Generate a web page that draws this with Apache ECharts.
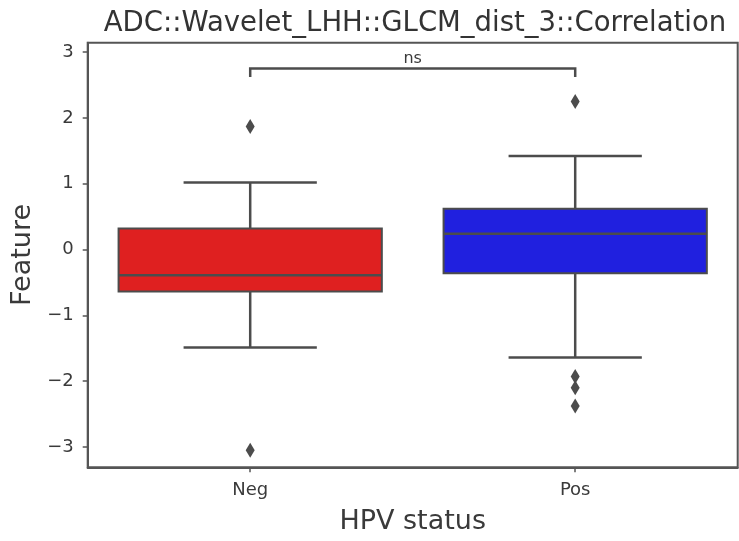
<!DOCTYPE html>
<html>
<head>
<meta charset="utf-8">
<script src="https://cdn.jsdelivr.net/npm/echarts@6/dist/echarts.min.js"></script>
<style>html,body{margin:0;padding:0;background:#fff}#c{width:739px;height:541px}</style>
</head>
<body>
<div id="c"></div>
<script>
// ---- data ----
const categories = ['Neg', 'Pos'];
// [lowWhisker, Q1, median, Q3, highWhisker]
const negStats = [-1.49, -0.64, -0.39, 0.32, 1.02];
const posStats = [-1.64, -0.36, 0.24, 0.62, 1.42];
const negOutliers = [1.87, -3.05];
const posOutliers = [2.25, -1.93, -2.10, -2.38];
const yTicks = [-3, -2, -1, 0, 1, 2, 3];
const bracketY = [2.62, 2.75];
const bracketText = 'ns';
const titleText = 'ADC::Wavelet_LHH::GLCM_dist_3::Correlation';

const boxColors = ['#df2020', '#2020df'];
const gray = '#4c4c4c';
const FONT = 'DejaVu Sans';

const boxData = [negStats, posStats].map((s, i) => [i].concat(s));
const outlierData = [];
negOutliers.forEach(v => outlierData.push([0, v]));
posOutliers.forEach(v => outlierData.push([1, v]));

function renderBox(params, api) {
  const i = api.value(0);
  const lo = api.value(1), q1 = api.value(2), med = api.value(3), q3 = api.value(4), hi = api.value(5);
  const band = api.size([1, 0])[0];
  const x = api.coord([i, med])[0];
  const hb = band * 0.405, hc = band * 0.205;
  const yLo = api.coord([i, lo])[1], yQ1 = api.coord([i, q1])[1], yMed = api.coord([i, med])[1];
  const yQ3 = api.coord([i, q3])[1], yHi = api.coord([i, hi])[1];
  const ls = { stroke: gray, lineWidth: 2.5 };
  return {
    type: 'group',
    children: [
      { type: 'line', shape: { x1: x, y1: yQ3, x2: x, y2: yHi }, style: ls },
      { type: 'line', shape: { x1: x, y1: yQ1, x2: x, y2: yLo }, style: ls },
      { type: 'line', shape: { x1: x - hc, y1: yHi, x2: x + hc, y2: yHi }, style: ls },
      { type: 'line', shape: { x1: x - hc, y1: yLo, x2: x + hc, y2: yLo }, style: ls },
      { type: 'rect', shape: { x: x - hb, y: yQ3, width: hb * 2, height: yQ1 - yQ3 },
        style: { fill: boxColors[i], stroke: gray, lineWidth: 2 } },
      { type: 'line', shape: { x1: x - hb, y1: yMed, x2: x + hb, y2: yMed }, style: ls }
    ]
  };
}

function renderBracket(params, api) {
  const yl = api.value(0), yh = api.value(1);
  const a = api.coord([0, yh]), b = api.coord([1, yh]);
  const yLow = api.coord([0, yl])[1];
  const ls = { stroke: gray, lineWidth: 2.5, fill: null };
  return {
    type: 'group',
    children: [
      { type: 'polyline', shape: { points: [[a[0], yLow], [a[0], a[1]], [b[0], b[1]], [b[0], yLow]] }, style: ls },
      { type: 'text', x: (a[0] + b[0]) / 2, y: a[1] - 2,
        style: { text: bracketText, fill: '#3a3a3a', font: '16px "' + FONT + '"', align: 'center', verticalAlign: 'bottom' } }
    ]
  };
}

const chart = echarts.init(document.getElementById('c'), null, { renderer: 'canvas' });
chart.setOption({
  animation: false,
  backgroundColor: '#fff',
  title: {
    text: titleText, left: 410, textAlign: 'center', top: 5,
    textStyle: { fontFamily: FONT, fontSize: 27.5, fontWeight: 'normal', color: '#333' }
  },
  grid: { left: 87.7, right: 1.3, top: 42.7, bottom: 73.7, show: true, borderColor: '#555', borderWidth: 2, backgroundColor: 'transparent' },
  xAxis: {
    type: 'category', data: categories, boundaryGap: true,
    name: 'HPV status', nameLocation: 'middle', nameGap: 41,
    nameTextStyle: { fontFamily: FONT, fontSize: 27, color: '#3a3a3a' },
    axisLine: { show: true, onZero: false, lineStyle: { color: '#555', width: 2 } },
    axisTick: { show: true, alignWithLabel: true, length: 5, lineStyle: { color: '#555', width: 1.5 } },
    axisLabel: { fontFamily: FONT, fontSize: 18, color: '#3a3a3a', margin: 14 },
    splitLine: { show: false }
  },
  yAxis: {
    type: 'value', min: -3.31, max: 3.143,
    name: 'Feature', nameLocation: 'middle', nameGap: 49, nameRotate: 90,
    nameTextStyle: { fontFamily: FONT, fontSize: 27, color: '#3a3a3a' },
    axisLine: { show: true, lineStyle: { color: '#555', width: 2 } },
    axisTick: { show: true, length: 5, customValues: yTicks, lineStyle: { color: '#555', width: 1.5 } },
    axisLabel: { fontFamily: FONT, fontSize: 18, color: '#3a3a3a', margin: 14, customValues: yTicks,
      formatter: v => String(v).replace('-', '\u2212') },
    splitLine: { show: false }
  },
  series: [
    { type: 'custom', renderItem: renderBox, data: boxData, encode: { x: 0, y: [1, 2, 3, 4, 5] }, z: 2 },
    { type: 'scatter', data: outlierData, symbol: 'path://M0,-1L0.6,0L0,1L-0.6,0Z', symbolSize: [9, 15],
      itemStyle: { color: gray, opacity: 1 }, z: 3 },
    { type: 'custom', renderItem: renderBracket, data: [[bracketY[0], bracketY[1], 0]], encode: { y: [0, 1] }, clip: false, z: 4 }
  ]
});
</script>
</body>
</html>
